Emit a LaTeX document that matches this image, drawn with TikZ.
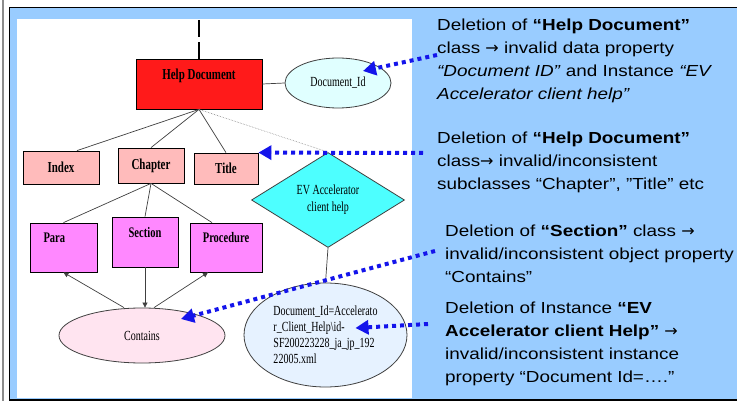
\documentclass[tikz,border=0pt]{standalone}
\usepackage{fontspec}
\usepackage{xcolor}
\usetikzlibrary{shapes.geometric, arrows.meta, positioning, calc}
\setmainfont{Liberation Serif}
\newfontfamily\diagfont[FakeStretch=0.72]{Liberation Serif}
\newfontfamily\notefont[FakeStretch=1.18]{Liberation Sans}
\newfontfamily\arrowfont{DejaVu Sans}
\newcommand\notearrow{{\arrowfont\fontsize{16}{22.8}\selectfont →}}
\definecolor{slideblue}{HTML}{99CCFF}
\definecolor{hdred}{HTML}{FF1A1A}
\definecolor{idcyan}{HTML}{E0FFFF}
\definecolor{subpink}{HTML}{FFBBBB}
\definecolor{partmag}{HTML}{FF88FF}
\definecolor{instcyan}{HTML}{4DFFFF}
\definecolor{relpink}{HTML}{FFE4F0}
\definecolor{valblue}{HTML}{E6F2FF}
\definecolor{ptrblue}{RGB}{20,20,235}

\begin{document}
\begin{tikzpicture}[x=1pt,y=-1pt,
    cls/.style={draw=black, line width=0.8pt, inner sep=0pt,
        font=\diagfont\fontsize{15.2}{17}\selectfont\bfseries},
    part/.style={cls, fill=partmag, minimum height=49pt,
        font=\diagfont\fontsize{14.6}{17}\selectfont\bfseries,
        text height=9.5pt, text depth=18.5pt},
    oval/.style={ellipse, draw=black!75, line width=0.8pt, inner sep=0pt,
        font=\diagfont\fontsize{13.9}{16}\selectfont},
    link/.style={draw=black!75, line width=0.7pt},
    pointer/.style={draw=ptrblue, line width=4pt, dash pattern=on 4pt off 4pt,
        -{Triangle[length=13pt,width=14pt]}},
    note/.style={anchor=north west, inner sep=0pt, align=left,
        font=\notefont\fontsize{16}{22.8}\selectfont}]
    \useasboundingbox (0,0) rectangle (737,401);

    % slide frame
    \fill[white] (0,0) rectangle (737,401);
    \fill[slideblue] (9,8) rectangle (737,400);
    \fill[white] (17,19) rectangle (412,398);
    \draw[black!45, line width=1.2pt] (3,0) -- (3,401);
    \draw[black, line width=1pt] (737,8) -- (9,8) -- (9,401);
    \draw[black, line width=1.5pt] (9,400) -- (737,400);

    % ontology fragment
    \node[cls, fill=hdred, minimum width=126pt, minimum height=50pt,
        text height=10pt, text depth=19pt] (helpdoc) at (199,84) {Help Document};
    \node[oval, fill=idcyan, minimum width=106pt, minimum height=50pt] (docid) at (338,83) {Document\_Id};
    \node[cls, fill=subpink, minimum width=76pt, minimum height=33pt] (index) at (61,167.5) {Index};
    \node[cls, fill=subpink, minimum width=66pt, minimum height=35pt] (chapter) at (151,165.5) {Chapter};
    \node[cls, fill=subpink, minimum width=64pt, minimum height=31pt] (title) at (226,168.5) {Title};
    \node[diamond, draw=black!75, line width=0.8pt, fill=instcyan, aspect=1.6, inner sep=0pt,
        minimum width=153pt, minimum height=95pt, align=center,
        font=\diagfont\fontsize{13.9}{17}\selectfont] (evinst) at (328,200) {EV Accelerator\\client help};
    \node[part, minimum width=67pt, text width=40pt, align=left] (para) at (63.5,247.5) {Para};
    \node[part, minimum width=66pt, minimum height=50pt] (section) at (145,242) {Section};
    \node[part, minimum width=72pt] (procedure) at (226,247.5) {Procedure};
    \node[oval, fill=relpink, minimum width=166pt, minimum height=55pt] (contains) at (142,335.5) {Contains};
    \node[oval, fill=valblue, minimum width=163pt, minimum height=104pt, align=left] (instid) at (325.5,335)
        {Document\_Id=Accelerato\\r\_Client\_Help\textbackslash id-\\SF200223228\_ja\_jp\_192\\22005.xml};

    \coordinate (above) at (199,19);
    \draw[line width=1.8pt, dash pattern=on 17pt off 5pt] (helpdoc.north) -- (above);
    \draw[link] (helpdoc.east) -- (docid.west);
    \draw[link] (helpdoc.south) -- ([xshift=16pt]index.north);
    \draw[link] (helpdoc.south) -- (chapter.north);
    \draw[link] (helpdoc.south) -- (title.north);
    \draw[black!45, line width=0.6pt, densely dotted] (helpdoc.south) -- (evinst.north);
    \draw[link] (chapter.south) -- (para.north);
    \draw[link] (chapter.south) -- (section.north);
    \draw[link] (chapter.south) -- ([xshift=-14pt]procedure.north);
    \draw[link] (evinst.south) -- (instid.north);

    % object property arrows
    \draw[link, -{Triangle[length=5pt,width=5pt]}] ([xshift=-18pt]contains.north) -- (para.south);
    \draw[link, -{Triangle[length=5pt,width=5pt]}] (section.south) -- (section.south |- contains.north);
    \draw[link, -{Triangle[length=5pt,width=5pt]}] ([xshift=12pt]contains.north) -- ([xshift=-18pt]procedure.south);

    % notes
    \node[note] (note1) at (437,19) {Deletion of \textbf{“Help Document”}\\
        class \notearrow{} invalid data property\\
        \textit{“Document ID”} and Instance \textit{“EV}\\
        \textit{Accelerator client help”}};
    \node[note] (note2) at (437,132) {Deletion of \textbf{“Help Document”}\\
        class\notearrow{} invalid/inconsistent\\
        subclasses “Chapter”, ”Title” etc};
    \node[note] (note3) at (445,225) {Deletion of \textbf{“Section”} class \notearrow\\
        invalid/inconsistent object property\\
        “Contains”};
    \node[note] (note4) at (445,302) {Deletion of Instance \textbf{“EV}\\
        \textbf{Accelerator client Help”} \notearrow\\
        invalid/inconsistent instance\\
        property “Document Id=….”};

    % dotted pointers
    \draw[pointer] ($(note1.north west)+(0,36)$) -- ($(docid.center)+(25,-12)$);
    \draw[pointer] ($(note2.north west)+(-14,21)$) -- (title.north east);
    \draw[pointer] ($(note3.north west)+(-10,26)$) -- ($(contains.center)+(39,-16.5)$);
    \draw[pointer] ($(note4.north west)+(-17,22)$) -- ($(instid.center)+(30,-7)$);
\end{tikzpicture}
\end{document}
